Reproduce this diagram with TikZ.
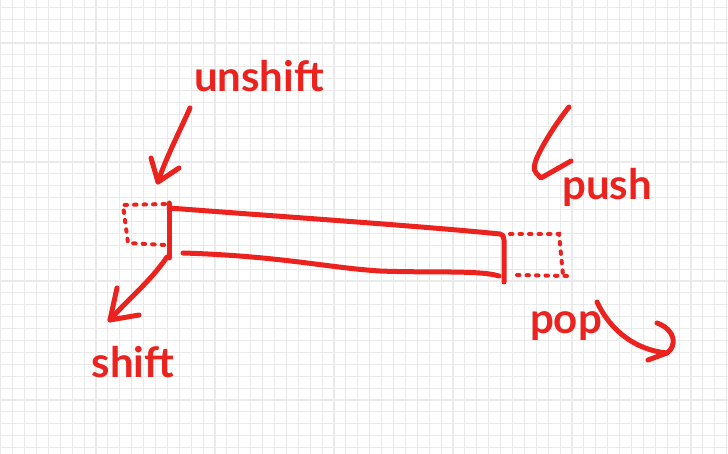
\documentclass[tikz,border=0pt]{standalone}
\usepackage{fontspec}
\setmainfont{Lato}
\definecolor{ink}{RGB}{236,34,30}
\definecolor{gridc}{RGB}{234,234,234}
\begin{document}
\begin{tikzpicture}[x=1pt,y=-1pt,
  pen/.style={draw=ink,line width=5pt,line cap=round,line join=round},
  dotpen/.style={draw=ink,line width=4pt,line cap=round,dash pattern=on 2.5pt off 7pt},
  hand/.style={text=ink,font=\bfseries\fontsize{42}{42}\selectfont,inner sep=0pt,anchor=base}]
\useasboundingbox (0,0) rectangle (728,454);
\fill[white] (0,0) rectangle (728,454);
% grid paper
\foreach \i in {0,...,61} \draw[gridc,line width=1.1pt] ({0.8+11.9*\i},0) -- ++(0,454);
\foreach \j in {0,...,38} \draw[gridc,line width=1.1pt] (0,{7.3+11.9*\j}) -- ++(728,0);

% labels
\node[hand] (unshift) at (259,92) {unshift};
\node[hand] (push) at (607,200) {push};
\node[hand] (shift) at (133,377) {shift};
\node[hand] (pop) at (566,333) {pop};

% array (long box)
\coordinate (tl) at (169,203);
\coordinate (bl) at (169,258);
\coordinate (tr) at (504,240);
\coordinate (br) at (504,282);
\draw[pen] (tl) -- (bl);
\draw[pen] (169,208) .. controls (300,218) and (420,226) .. (500,234)
           .. controls (503,235) .. (tr) -- (br);
\draw[pen] (183,253) .. controls (280,256) and (330,268) .. (380,271)
           .. controls (430,273) and (480,270) .. (499,276);

% dotted slots
\draw[dotpen] (165,204) -- (123,205) -- (128,243) -- (165,245);
\draw[dotpen] (510,234) -- (559,234) -- (563,275);
\draw[dotpen] (517,275) -- (568,276);

% unshift arrow
\coordinate (us) at (190,108);
\coordinate (ut) at (158,182);
\draw[pen] (us) .. controls (178,135) and (165,160) .. (ut);
\draw[pen] (151,158) -- (ut) -- (179,168);

% push arrow
\coordinate (ps) at (569,107);
\coordinate (pt) at (541,178);
\draw[pen] (ps) .. controls (557,122) and (542,145) .. (536,160)
           .. controls (533,170) .. (pt) -- (571,161);

% shift arrow
\coordinate (ss) at (167,257);
\coordinate (st) at (110,320);
\draw[pen] (ss) .. controls (150,282) and (127,300) .. (st);
\draw[pen] (117,288) -- (st) -- (139,315);

% pop arrow
\coordinate (os) at (597,302);
\coordinate (ot) at (667,353);
\draw[pen] (os) .. controls (610,330) and (635,350) .. (ot);
\draw[pen] (657,323) .. controls (676,330) and (677,346) .. (ot) -- (648,360);
\end{tikzpicture}
\end{document}
